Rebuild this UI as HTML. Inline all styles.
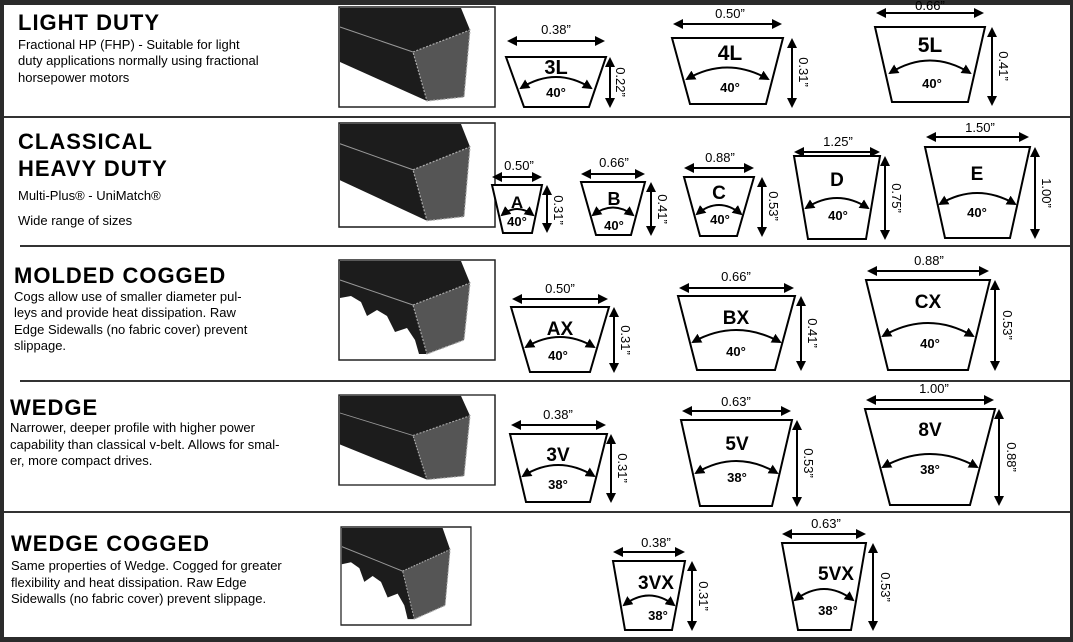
<!DOCTYPE html>
<html><head><meta charset="utf-8"><style>
html,body{margin:0;padding:0;background:#2b2b2b}
svg{display:block}
.t{font-family:"Liberation Sans",Arial,sans-serif;font-weight:bold;letter-spacing:1px;font-size:22px}
.d{font-family:"Liberation Sans",Arial,sans-serif;font-size:13px}
.n{font-family:"Liberation Sans",Arial,sans-serif;font-weight:bold;text-anchor:middle}
.a{font-family:"Liberation Sans",Arial,sans-serif;font-weight:bold;font-size:13px;text-anchor:middle}
.l{font-family:"Liberation Sans",Arial,sans-serif;font-size:13px;text-anchor:middle}
.tr{fill:#fff;stroke:#000;stroke-width:2}
.ar{stroke:#000;stroke-width:2;fill:none;marker-start:url(#m);marker-end:url(#m)}
</style></head><body>
<svg width="1073" height="642" viewBox="0 0 1073 642" xmlns="http://www.w3.org/2000/svg">
<defs>
<marker id="m" viewBox="0 0 10 10" refX="8" refY="5" markerWidth="5" markerHeight="5" orient="auto-start-reverse"><path d="M0,0 L10,5 L0,10 z" fill="#000"/></marker>
<g id="pb">
<rect x="0" y="0" width="156" height="100" fill="#fff" stroke="#222" stroke-width="1.5"/>
<polygon points="1,1 122,1 131,23 125,90 88,94 1,55" fill="#1c1c1c"/>
<polygon points="74,45 131,23 125,90 88,94" fill="#555" stroke="#aaa" stroke-width="1.2" stroke-dasharray="2,1.5"/>
<line x1="1" y1="20" x2="74" y2="45" stroke="#999" stroke-width="1"/>
</g>
<g id="cb">
<rect x="0" y="0" width="156" height="100" fill="#fff" stroke="#222" stroke-width="1.5"/>
<polygon points="1,1 122,1 131,23 125,80 88,94 80,94 76,80 68,68 56,72 48,56 38,50 28,56 22,42 12,36 1,38" fill="#1c1c1c"/>
<polygon points="74,45 131,23 125,80 88,94" fill="#555" stroke="#aaa" stroke-width="1.2" stroke-dasharray="2,1.5"/>
<line x1="1" y1="20" x2="74" y2="45" stroke="#999" stroke-width="1"/>
</g>
</defs>
<rect x="4" y="5" width="1066" height="632" fill="#fff"/>
<g stroke="#333" stroke-width="2">
<line x1="4" y1="117" x2="1070" y2="117"/>
<line x1="20" y1="246" x2="1070" y2="246"/>
<line x1="20" y1="381" x2="1070" y2="381"/>
<line x1="4" y1="512" x2="1070" y2="512"/>
</g>
<text class="t" x="18" y="30">LIGHT DUTY</text>
<text class="d" x="18" y="49">Fractional HP (FHP) - Suitable for light</text>
<text class="d" x="18" y="65">duty applications normally using fractional</text>
<text class="d" x="18" y="82">horsepower motors</text>
<text class="t" x="18" y="149">CLASSICAL</text>
<text class="t" x="18" y="176">HEAVY DUTY</text>
<text class="d" x="18" y="200">Multi-Plus® - UniMatch®</text>
<text class="d" x="18" y="225">Wide range of sizes</text>
<text class="t" x="14" y="283">MOLDED COGGED</text>
<text class="d" x="14" y="301">Cogs allow use of smaller diameter  pul-</text>
<text class="d" x="14" y="317">leys and provide heat dissipation. Raw</text>
<text class="d" x="14" y="334">Edge Sidewalls (no fabric cover) prevent</text>
<text class="d" x="14" y="350">slippage.</text>
<text class="t" x="10" y="415">WEDGE</text>
<text class="d" x="10" y="432">Narrower, deeper profile with higher power</text>
<text class="d" x="10" y="449">capability than classical v-belt. Allows for smal-</text>
<text class="d" x="10" y="465">er, more compact drives.</text>
<text class="t" x="11" y="551">WEDGE COGGED</text>
<text class="d" x="11" y="570">Same properties of Wedge. Cogged for greater</text>
<text class="d" x="11" y="587">flexibility  and  heat  dissipation.  Raw  Edge</text>
<text class="d" x="11" y="603">Sidewalls (no fabric cover) prevent slippage.</text>
<use href="#pb" transform="translate(339,7)"/>
<use href="#pb" transform="translate(339,123) scale(1,1.04)"/>
<use href="#cb" transform="translate(339,260)"/>
<use href="#pb" transform="translate(339,395) scale(1,0.9)"/>
<use href="#cb" transform="translate(341,527) scale(0.833,0.98)"/>
<g>
<polygon class="tr" points="506,57 606,57 589,107 524,107"/>
<line class="ar" x1="509" y1="41" x2="603" y2="41"/><text class="l" x="556" y="34">0.38”</text>
<line class="ar" x1="610" y1="59" x2="610" y2="106"/><text class="l" transform="translate(616,82) rotate(90)">0.22”</text>
<text class="n" x="556" y="74" font-size="20">3L</text>
<path class="ar" d="M521,88 Q556,66 591,88"/><text class="a" x="556" y="97">40°</text>
<polygon class="tr" points="672,38 783,38 766,104 690,104"/>
<line class="ar" x1="675" y1="24" x2="780" y2="24"/><text class="l" x="730" y="18">0.50”</text>
<line class="ar" x1="792" y1="40" x2="792" y2="106"/><text class="l" transform="translate(799,72) rotate(90)">0.31”</text>
<text class="n" x="730" y="60" font-size="21">4L</text>
<path class="ar" d="M687,79 Q727,56 768,79"/><text class="a" x="730" y="92">40°</text>
<polygon class="tr" points="875,27 985,27 968,102 892,102"/>
<line class="ar" x1="878" y1="13" x2="982" y2="13"/><text class="l" x="930" y="10">0.66”</text>
<line class="ar" x1="992" y1="29" x2="992" y2="104"/><text class="l" transform="translate(999,66) rotate(90)">0.41”</text>
<text class="n" x="930" y="52" font-size="21">5L</text>
<path class="ar" d="M890,73 Q930,48 970,73"/><text class="a" x="932" y="88">40°</text>
<polygon class="tr" points="492,185 542,185 532,233 503,233"/>
<line class="ar" x1="494" y1="177" x2="540" y2="177"/><text class="l" x="519" y="170">0.50”</text>
<line class="ar" x1="547" y1="187" x2="547" y2="231"/><text class="l" transform="translate(554,210) rotate(90)">0.31”</text>
<text class="n" x="517" y="208" font-size="17">A</text>
<path class="ar" d="M502,215 Q517,203 533,215"/><text class="a" x="517" y="226" font-size="12">40°</text>
<polygon class="tr" points="581,182 645,182 631,235 596,235"/>
<line class="ar" x1="583" y1="174" x2="643" y2="174"/><text class="l" x="614" y="167">0.66”</text>
<line class="ar" x1="651" y1="184" x2="651" y2="234"/><text class="l" transform="translate(658,209) rotate(90)">0.41”</text>
<text class="n" x="614" y="205" font-size="18">B</text>
<path class="ar" d="M593,215 Q613,200 633,215"/><text class="a" x="614" y="230">40°</text>
<polygon class="tr" points="684,177 754,177 737,236 700,236"/>
<line class="ar" x1="686" y1="168" x2="752" y2="168"/><text class="l" x="720" y="162">0.88”</text>
<line class="ar" x1="762" y1="179" x2="762" y2="235"/><text class="l" transform="translate(769,206) rotate(90)">0.53”</text>
<text class="n" x="719" y="199" font-size="19">C</text>
<path class="ar" d="M697,214 Q719,196 741,214"/><text class="a" x="720" y="224">40°</text>
<polygon class="tr" points="794,156 880,156 866,239 808,239"/>
<line class="ar" x1="796" y1="152" x2="878" y2="152"/><text class="l" x="838" y="146">1.25”</text>
<line class="ar" x1="885" y1="158" x2="885" y2="238"/><text class="l" transform="translate(892,198) rotate(90)">0.75”</text>
<text class="n" x="837" y="186" font-size="19">D</text>
<path class="ar" d="M806,208 Q837,188 868,208"/><text class="a" x="838" y="220">40°</text>
<polygon class="tr" points="925,147 1030,147 1010,238 945,238"/>
<line class="ar" x1="928" y1="137" x2="1027" y2="137"/><text class="l" x="980" y="132">1.50”</text>
<line class="ar" x1="1035" y1="149" x2="1035" y2="237"/><text class="l" transform="translate(1042,193) rotate(90)">1.00”</text>
<text class="n" x="977" y="180" font-size="19">E</text>
<path class="ar" d="M940,204 Q977,182 1015,204"/><text class="a" x="977" y="217">40°</text>
<polygon class="tr" points="511,307 609,307 590,372 530,372"/>
<line class="ar" x1="514" y1="299" x2="606" y2="299"/><text class="l" x="560" y="293">0.50”</text>
<line class="ar" x1="614" y1="309" x2="614" y2="371"/><text class="l" transform="translate(621,340) rotate(90)">0.31”</text>
<text class="n" x="560" y="335" font-size="19">AX</text>
<path class="ar" d="M526,347 Q560,327 594,347"/><text class="a" x="558" y="360">40°</text>
<polygon class="tr" points="678,296 795,296 775,370 697,370"/>
<line class="ar" x1="681" y1="288" x2="792" y2="288"/><text class="l" x="736" y="281">0.66”</text>
<line class="ar" x1="801" y1="298" x2="801" y2="369"/><text class="l" transform="translate(808,333) rotate(90)">0.41”</text>
<text class="n" x="736" y="324" font-size="19">BX</text>
<path class="ar" d="M693,342 Q736,318 780,342"/><text class="a" x="736" y="356">40°</text>
<polygon class="tr" points="866,280 990,280 968,370 888,370"/>
<line class="ar" x1="869" y1="271" x2="987" y2="271"/><text class="l" x="929" y="265">0.88”</text>
<line class="ar" x1="995" y1="282" x2="995" y2="369"/><text class="l" transform="translate(1003,325) rotate(90)">0.53”</text>
<text class="n" x="928" y="308" font-size="19">CX</text>
<path class="ar" d="M883,336 Q928,310 973,336"/><text class="a" x="930" y="348">40°</text>
<polygon class="tr" points="510,434 607,434 590,502 526,502"/>
<line class="ar" x1="513" y1="425" x2="604" y2="425"/><text class="l" x="558" y="419">0.38”</text>
<line class="ar" x1="611" y1="436" x2="611" y2="501"/><text class="l" transform="translate(618,468) rotate(90)">0.31”</text>
<text class="n" x="558" y="461" font-size="19">3V</text>
<path class="ar" d="M523,476 Q558,454 594,476"/><text class="a" x="558" y="489">38°</text>
<polygon class="tr" points="681,420 792,420 772,506 700,506"/>
<line class="ar" x1="684" y1="411" x2="789" y2="411"/><text class="l" x="736" y="406">0.63”</text>
<line class="ar" x1="797" y1="422" x2="797" y2="505"/><text class="l" transform="translate(804,463) rotate(90)">0.53”</text>
<text class="n" x="737" y="450" font-size="19">5V</text>
<path class="ar" d="M696,473 Q736,449 777,473"/><text class="a" x="737" y="482">38°</text>
<polygon class="tr" points="865,409 995,409 970,505 890,505"/>
<line class="ar" x1="868" y1="400" x2="992" y2="400"/><text class="l" x="934" y="393">1.00”</text>
<line class="ar" x1="999" y1="411" x2="999" y2="504"/><text class="l" transform="translate(1007,457) rotate(90)">0.88”</text>
<text class="n" x="930" y="436" font-size="19">8V</text>
<path class="ar" d="M883,467 Q930,441 977,467"/><text class="a" x="930" y="474">38°</text>
<polygon class="tr" points="613,561 685,561 672,630 625,630"/>
<line class="ar" x1="615" y1="552" x2="683" y2="552"/><text class="l" x="656" y="547">0.38”</text>
<line class="ar" x1="692" y1="563" x2="692" y2="629"/><text class="l" transform="translate(699,596) rotate(90)">0.31”</text>
<text class="n" x="656" y="589" font-size="19">3VX</text>
<path class="ar" d="M624,605 Q649,586 674,605"/><text class="a" x="658" y="620">38°</text>
<polygon class="tr" points="782,543 866,543 851,630 798,630"/>
<line class="ar" x1="784" y1="534" x2="864" y2="534"/><text class="l" x="826" y="528">0.63”</text>
<line class="ar" x1="873" y1="545" x2="873" y2="629"/><text class="l" transform="translate(881,587) rotate(90)">0.53”</text>
<text class="n" x="836" y="580" font-size="19">5VX</text>
<path class="ar" d="M795,600 Q824,578 853,600"/><text class="a" x="828" y="615">38°</text>
</g>
</svg>
</body></html>
